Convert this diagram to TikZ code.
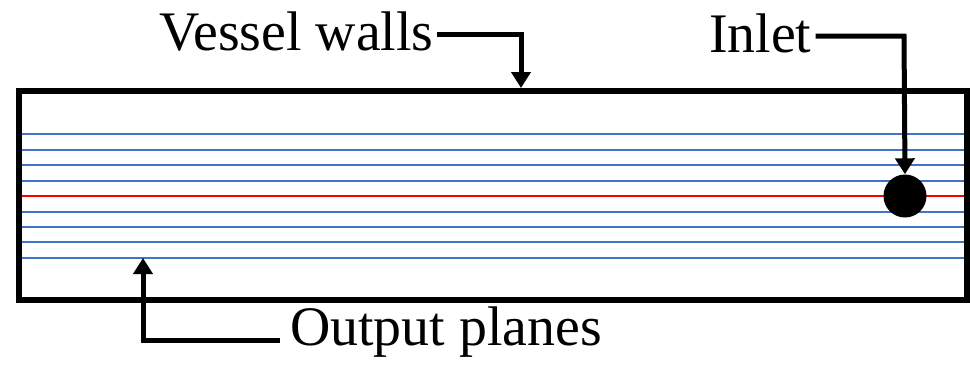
\documentclass[tikz,border=0pt]{standalone}
\usepackage{fontspec}
\setmainfont{Liberation Serif}
\usetikzlibrary{arrows.meta}
\definecolor{planeblue}{HTML}{4472C4}
\tikzset{
  lbl/.style={inner sep=0pt, anchor=base west, font=\fontsize{55.8}{60}\selectfont},
  callout/.style={line width=5pt, line join=miter, -{Triangle[width=19pt,length=16pt]}},
  plane/.style={planeblue, line width=2pt},
}
\begin{document}
\begin{tikzpicture}[x=1pt,y=-1pt]
\useasboundingbox (0,0) rectangle (970,367);
% output planes
\foreach \y in {134.3,150,165.3,180.6,211.7,227,242.4,258}
  \draw[plane] (21,\y) -- (965,\y);
\draw[red, line width=2pt] (21,196) -- (965,196);
% vessel
\draw[line width=6pt] (18.5,91) rectangle (966.5,300);
% inlet
\node[circle, fill=black, minimum size=43pt, inner sep=0pt] (inlet) at (905,196) {};
% labels
\node[lbl] (vw) at (159,50) {Vessel walls};
\node[lbl] (il) at (709,52) {Inlet};
\node[lbl] (op) at (290,345) {Output planes};
\coordinate (vwtip) at (521,88);
\coordinate (optip) at (143,258);
% callouts
\draw[callout] (vw.east |- 0,34.5) ++(3,0) -- (521,34.5) -- (vwtip);
\draw[callout] (il.east |- 0,36) ++(4,0) -- (904,36) -- (inlet.north);
\draw[callout] (op.west |- 0,340) ++(-10,0) -- (143,340) -- (optip);
\end{tikzpicture}
\end{document}
